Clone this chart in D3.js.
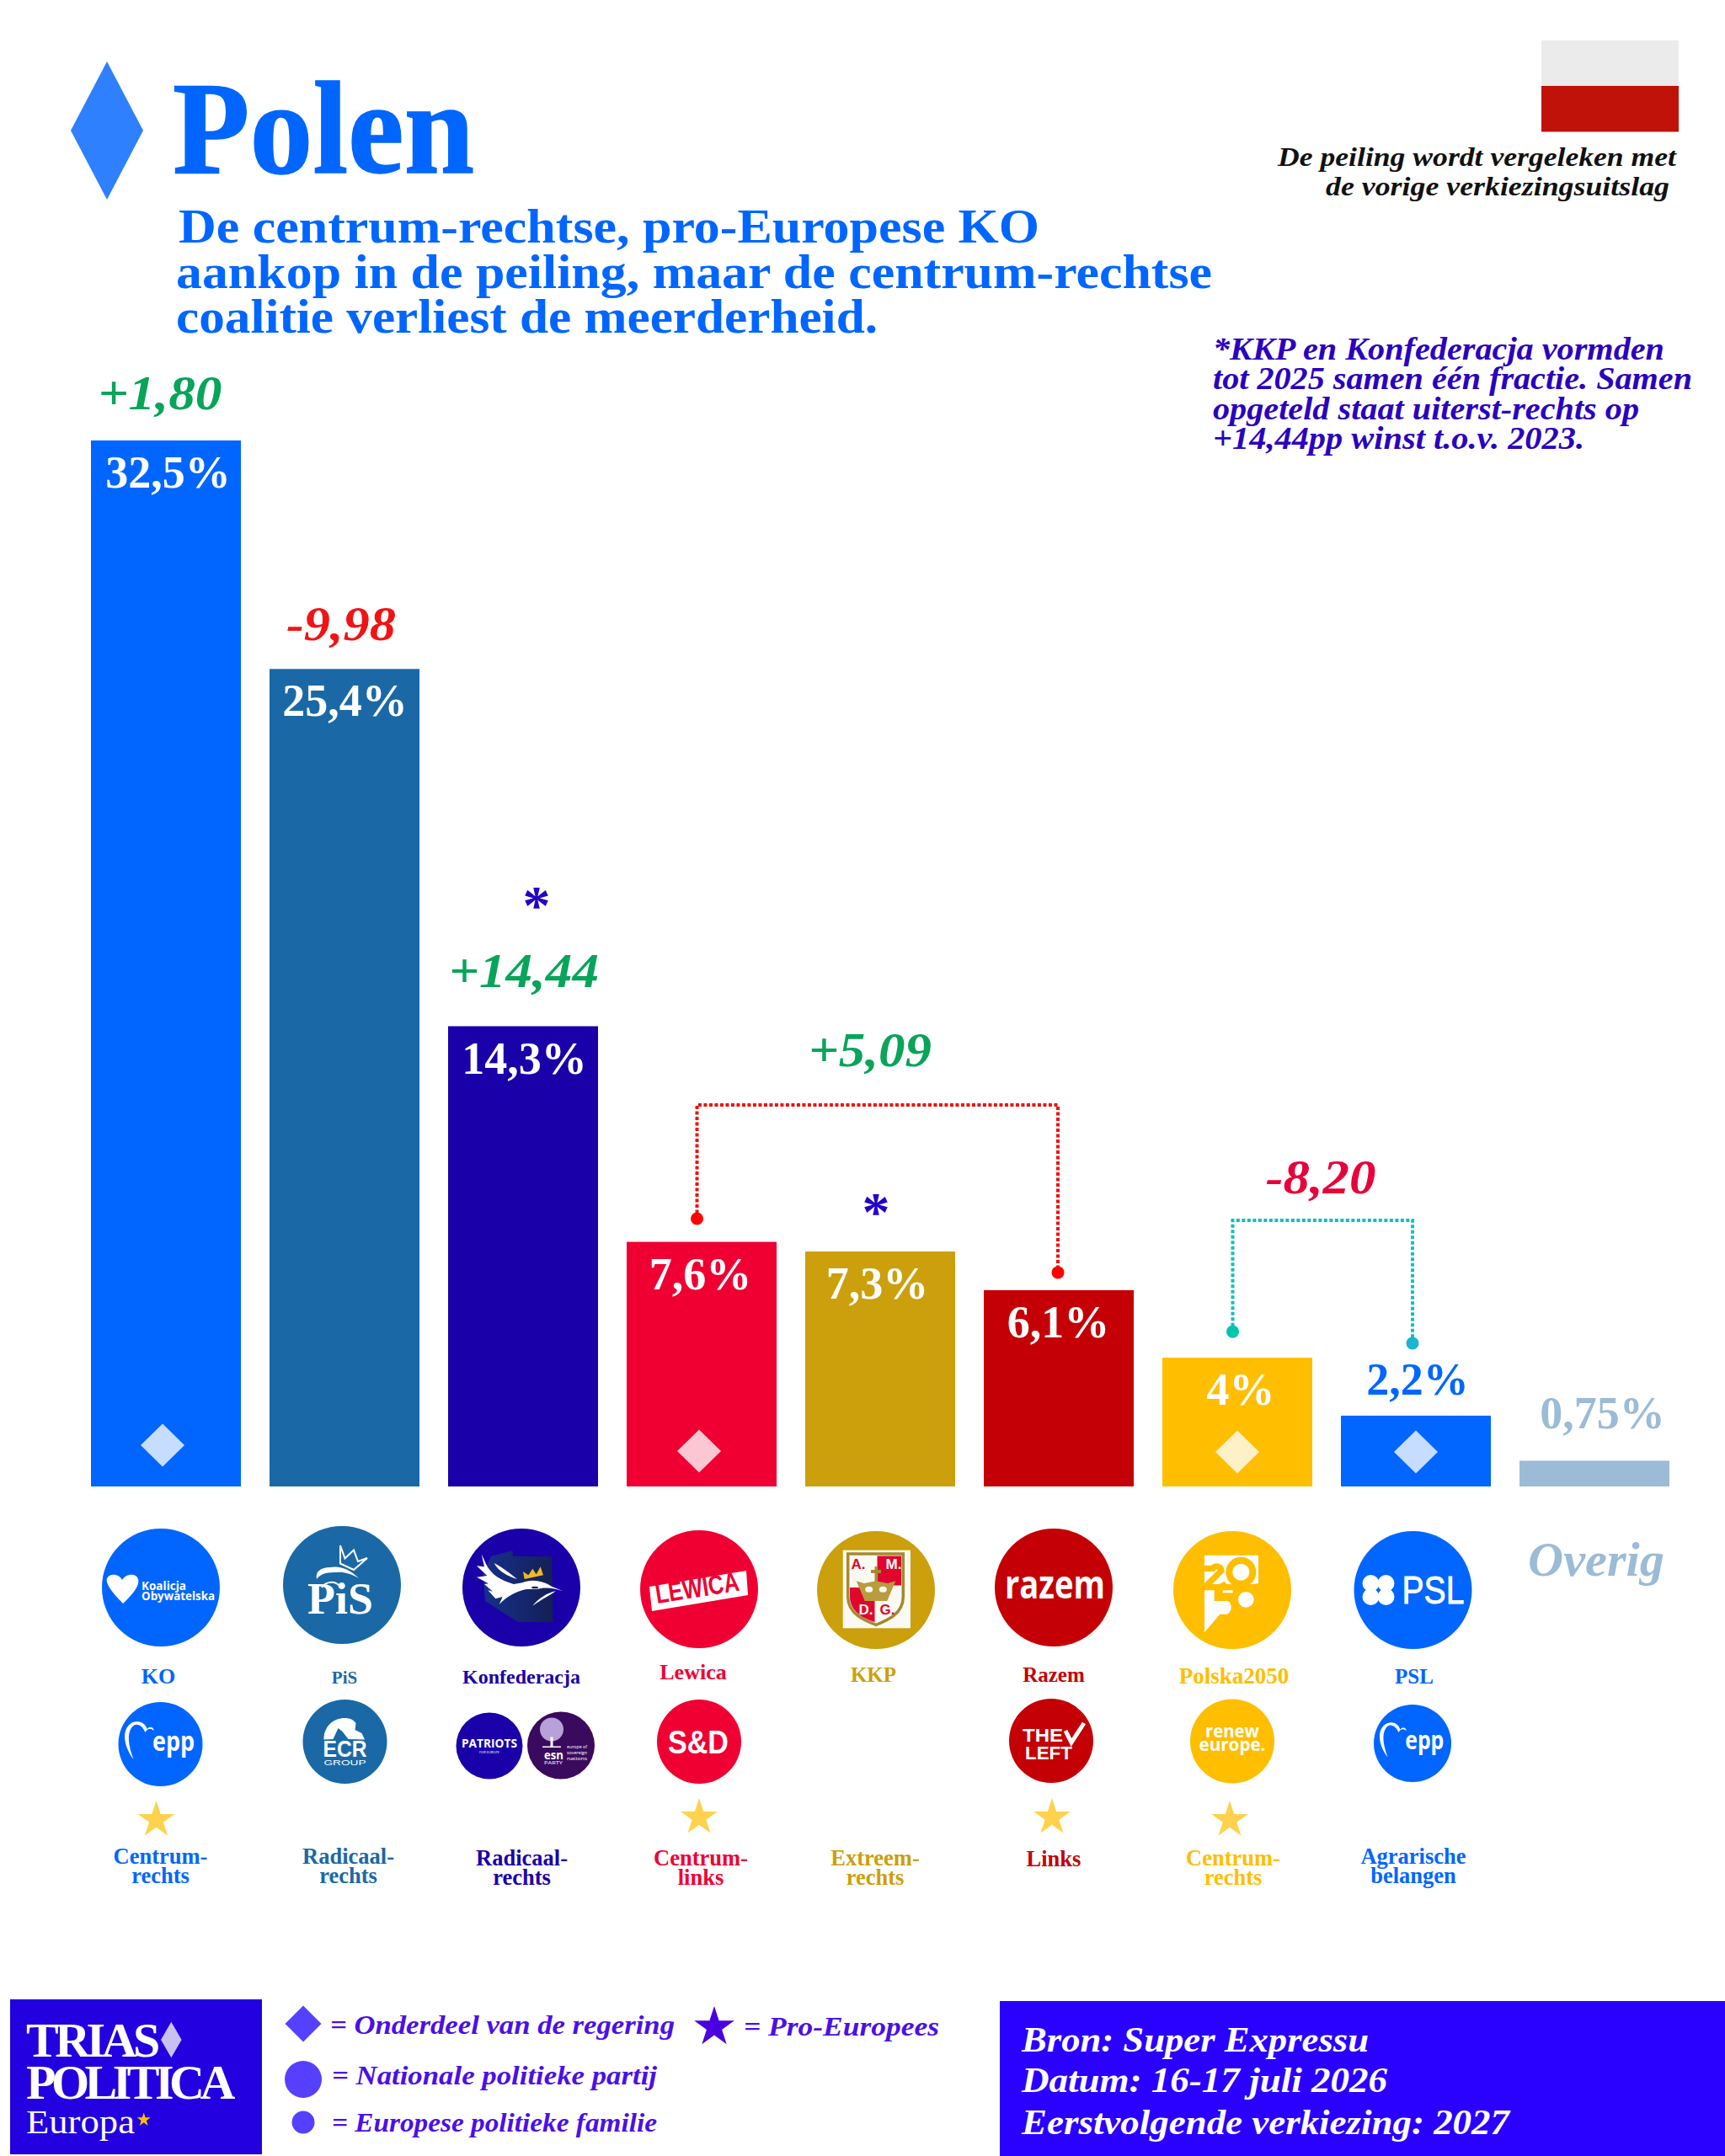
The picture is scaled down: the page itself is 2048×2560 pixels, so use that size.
<!DOCTYPE html>
<html>
<head>
<meta charset="utf-8">
<title>Polen</title>
<script src="https://cdn.jsdelivr.net/npm/d3@7"></script>
<style>
  body { margin: 0; background: #fff; }
  svg { display: block; }
  text { font-family: "Liberation Serif", serif; font-weight: bold; }
  .logo text { font-family: "Open Sans", "Liberation Sans", sans-serif; }
</style>
</head>
<body>
<div id="chart-container"></div>
<script>
// data
const parties = ['KO', 'PiS', 'Konfederacja', 'Lewica', 'KKP', 'Razem', 'Polska2050', 'PSL', 'Overig'];
const polling = [32.5, 25.4, 14.3, 7.6, 7.3, 6.1, 4, 2.2, 0.8];
const pollingLabels = ['32,5%', '25,4%', '14,3%', '7,6%', '7,3%', '6,1%', '4%', '2,2%', '0,75%'];
const inGovernment = ['KO', 'Lewica', 'Polska2050', 'PSL'];
const proEuropean = ['KO', 'Lewica', 'Razem', 'Polska2050'];
const starred = ['Konfederacja', 'KKP'];
const leanings = [
  ['Centrum-', 'rechts'], ['Radicaal-', 'rechts'], ['Radicaal-', 'rechts'], ['Centrum-', 'links'],
  ['Extreem-', 'rechts'], ['Links'], ['Centrum-', 'rechts'], ['Agrarische', 'belangen'], []
];
const changeLabels = ['+1,80', '-9,98', '+14,44', '+5,09', '-8,20'];
const partyColors = ['#0066ff', '#1a69a6', '#1a00a8', '#f00032', '#cc9f0c', '#c40006', '#ffbe00', '#0066ff', '#9bbbd6'];

const green = '#08a45a', blue = '#0066ff', violet = '#2a00c0', legendInk = '#4a10e8';

const svg = d3.select('#chart-container').append('svg')
  .attr('width', 2048).attr('height', 2560);

const xScale = d3.scaleBand().domain(parties).range([108, 1982]).paddingInner(34 / 212);
const yScale = d3.scaleLinear().domain([0, 32.5]).range([1765, 523]);
const color = d3.scaleOrdinal().domain(parties).range(partyColors);
const mid = p => xScale(p) + xScale.bandwidth() / 2;

// text helper, len squeezes or stretches the run to the measured width
function label(parent, str, x, y, size, fill, o = {}) {
  const t = parent.append('text')
    .attr('x', x).attr('y', y)
    .attr('font-size', size).attr('fill', fill)
    .attr('text-anchor', o.anchor || 'start')
    .text(str);
  if (o.italic) t.attr('font-style', 'italic');
  if (o.len) t.attr('textLength', o.len).attr('lengthAdjust', 'spacingAndGlyphs');
  if (o.weight) t.style('font-weight', o.weight);
  if (o.family) t.style('font-family', o.family);
  if (o.spacing) t.style('letter-spacing', o.spacing + 'px');
  if (o.stroke) t.attr('stroke', fill).attr('stroke-width', o.stroke);
  return t;
}

function diamond(parent, cx, cy, hw, hh, fill, opacity) {
  return parent.append('path')
    .attr('d', `M${cx},${cy - hh}L${cx + hw},${cy}L${cx},${cy + hh}L${cx - hw},${cy}Z`)
    .attr('fill', fill).attr('opacity', opacity === undefined ? 1 : opacity);
}

const star = r => d3.symbol(d3.symbolStar, r * r / 0.8908)();

// header
diamond(svg, 127, 155, 43, 82, '#2e80ff');
label(svg, 'Polen', 205, 205, 157, blue, { len: 358, stroke: 1.5 });
label(svg, 'De centrum-rechtse, pro-Europese KO', 212, 288, 58, blue, { len: 1022 });
label(svg, 'aankop in de peiling, maar de centrum-rechtse', 209, 342, 58, blue, { len: 1230 });
label(svg, 'coalitie verliest de meerderheid.', 209, 395, 58, blue, { len: 833 });

svg.append('rect').attr('x', 1830).attr('y', 48).attr('width', 163).attr('height', 54).attr('fill', '#ebebeb');
svg.append('rect').attr('x', 1830).attr('y', 102).attr('width', 163).attr('height', 54.5).attr('fill', '#c01208');
label(svg, 'De peiling wordt vergeleken met', 1517, 197, 32, '#111', { italic: true, len: 473 });
label(svg, 'de vorige verkiezingsuitslag', 1574, 232, 32, '#111', { italic: true, len: 408 });

[['*KKP en Konfederacja vormden', 427, 536], ['tot 2025 samen één fractie. Samen', 462, 569],
 ['opgeteld staat uiterst-rechts op', 498, 506], ['+14,44pp winst t.o.v. 2023.', 533, 441]]
  .forEach(([s, y, len]) => label(svg, s, 1440, y, 37, violet, { italic: true, len }));

// bars
svg.selectAll('.bar').data(parties).enter().append('rect')
  .attr('class', 'bar')
  .attr('x', d => xScale(d))
  .attr('y', d => yScale(polling[parties.indexOf(d)]))
  .attr('width', xScale.bandwidth())
  .attr('height', d => yScale(0) - yScale(polling[parties.indexOf(d)]))
  .attr('fill', d => color(d));

// value labels, the two small bars carry theirs above the bar
parties.forEach((p, i) => {
  const top = yScale(polling[i]);
  const outside = polling[i] < 3;
  const dx = [2.5, 0.5, 1.5, -1.5, -3.5, -0.5, 4, 2, 9.5][i];
  label(svg, pollingLabels[i], mid(p) + dx, outside ? top - 25 - (p === 'Overig' ? 13 : 0) : top + 56, 54,
    outside ? color(p) : '#fff', { anchor: 'middle' });
});

inGovernment.forEach(p => {
  const cy = p === 'KO' ? 1716 : p === 'Lewica' ? 1723 : 1724;
  diamond(svg, mid(p) - (p === 'KO' ? 4 : p === 'Lewica' ? 3 : 0), cy, 26, 25.5, '#fff', 0.78);
});

// change since the last election
const changeAt = [['KO', 190, 486, green, 147], ['PiS', 405, 760, '#f01414', 130], ['Konfederacja', 622, 1172, green, 178],
  ['KKP', 1033, 1266, green, 146], ['PSL', 1568, 1417, '#e8003a', 131]];
changeAt.forEach((c, i) => label(svg, changeLabels[i], c[1], c[2], 58, c[3], { italic: true, anchor: 'middle', len: c[4] }));

starred.forEach(p => {
  label(svg, '*', p === 'KKP' ? mid(p) - 5 : mid(p) + 16, yScale(polling[parties.indexOf(p)]) - (p === 'KKP' ? 25 : 122), 66, '#2200c8', { anchor: 'middle' });
});

// dotted brackets between parties that ran together
function bracket(a, b, ax, bx, topY, aGap, bGap, line, aDot, bDot) {
  const x1 = mid(a) + ax, x2 = mid(b) + bx;
  const y1 = yScale(polling[parties.indexOf(a)]) - aGap, y2 = yScale(polling[parties.indexOf(b)]) - bGap;
  svg.append('path')
    .attr('d', d3.line()([[x1, y1], [x1, topY], [x2, topY], [x2, y2]]))
    .attr('fill', 'none').attr('stroke', line).attr('stroke-width', 4).attr('stroke-dasharray', '4 2.5');
  svg.append('circle').attr('cx', x1).attr('cy', y1).attr('r', 7.5).attr('fill', aDot);
  svg.append('circle').attr('cx', x2).attr('cy', y2).attr('r', 7.5).attr('fill', bDot);
}
bracket('Lewica', 'Razem', -5.5, -1, 1312, 27.5, 21, '#f21010', '#ff0000', '#ff0000');
bracket('Polska2050', 'PSL', -5.5, -4, 1449, 31, 86, '#10bfc0', '#00c4b0', '#1ab5d0');

// party logos are simplified redraws of the originals
const logoAt = (cx, cy, r, fill) => {
  const g = svg.append('g').attr('class', 'logo').attr('transform', `translate(${cx},${cy})`);
  g.append('circle').attr('r', r).attr('fill', fill);
  return g;
};
const w = (g, s, x, y, size, len, o = {}) => label(g, s, x, y, size, o.fill || '#fff', { len, ...o });

// KO
let g = logoAt(191, 1885, 70, color('KO'));
g.append('path').attr('d', 'M-45,19C-60,4 -66,-6 -64,-11C-61,-17 -50,-17 -46,-9C-41,-17 -29,-17 -27,-10C-25,-4 -31,6 -45,19Z').attr('fill', '#fff');
w(g, 'Koalicja', -23, 3, 15, 53);
w(g, 'Obywatelska', -23, 15, 15, 87);

// PiS
g = logoAt(406, 1882, 70, color('PiS'));
w(g, 'PiS', -41, 34, 52, 78, { family: '"Liberation Serif", serif' });
g.append('path').attr('d', 'M-2,-47L3.5,-31.5L14,-41.4L19,-28L30,-32L14,-18L-2,-25.5Z').attr('fill', 'none').attr('stroke', '#fff').attr('stroke-width', 2);
g.append('path').attr('d', 'M-30,-7C-32,-16 -25,-21 -14,-21C-4,-23 8,-20 20,-8C10,-14 0,-16 -6,-15C-16,-15 -24,-15 -30,-7Z').attr('fill', '#fff');
g.append('path').attr('d', 'M-24,3C-20,-4 -8,-6 -2,2').attr('fill', 'none').attr('stroke', '#fff').attr('stroke-width', 2);

// Konfederacja, drawn in the 3x crop's coordinates
const konfGrad = svg.append('defs').append('linearGradient').attr('id', 'konfGrad');
konfGrad.append('stop').attr('offset', '0').attr('stop-color', '#16308c');
konfGrad.append('stop').attr('offset', '1').attr('stop-color', '#141f55');
g = logoAt(619, 1885, 70, color('Konfederacja'));
let art = g.append('g').attr('transform', 'translate(-79,-84) scale(0.3333)');
art.append('path').attr('d', 'M130,140L205,120L207,140L345,142L350,375L225,375L108,300L100,200Z').attr('fill', 'url(#konfGrad)');
art.append('path').attr('d', 'M95,133L112,170C130,205 160,225 210,240L240,235C270,222 310,225 345,248L385,265C350,252 320,250 290,258C270,258 250,256 240,262C210,270 180,290 158,312L170,285L145,292L118,262L135,266L105,240L120,238L78,215L115,210L78,175L105,178Z').attr('fill', '#fff');
art.append('path').attr('d', 'M277,317C300,290 330,270 360,265C330,285 300,300 277,317Z').attr('fill', '#fff');
art.append('path').attr('d', 'M140,165C170,180 200,205 222,222C190,212 155,195 140,165Z').attr('fill', '#fff');
art.append('ellipse').attr('cx', 285).attr('cy', 252).attr('rx', 12).attr('ry', 4).attr('fill', '#141f55');
art.append('path').attr('d', 'M243,195L262,208L277,185L290,205L305,178L315,208L248,222Z').attr('fill', '#f5b81c');

// Lewica
g = logoAt(830, 1887, 70, color('Lewica'));
g.append('path').attr('d', 'M-59,-3L56,-22L58,7L-56,26Z').attr('fill', '#fff');
w(g, 'LEWICA', -50, 17, 32, 100, { fill: color('Lewica'), family: '"Liberation Sans", sans-serif' }).attr('transform', 'rotate(-9 -50 17)');

// KKP
g = logoAt(1040, 1888, 70, color('KKP'));
g.append('rect').attr('x', -39.3).attr('y', -47.3).attr('width', 80.3).attr('height', 92.6).attr('fill', '#fbfaf2');
g.append('path').attr('d', 'M-33.3,-43L32.3,-43L32.3,8C32.3,28 14,36 0,41.3C-14,36 -33.3,28 -33.3,8Z').attr('fill', '#fbfaf2').attr('stroke', '#a58a30').attr('stroke-width', 3.5);
g.append('rect').attr('x', 1.5).attr('y', -40.5).attr('width', 28.5).attr('height', 35).attr('fill', '#e0062e');
g.append('path').attr('d', 'M-31,-3L-1.5,-3L-1.5,38C-14,34 -31,26 -31,8Z').attr('fill', '#e0062e');
g.append('path').attr('d', 'M-1.5,-28L1.5,-28L1.5,-24L6,-24L6,-20L1.5,-20L1.5,-10L-1.5,-10L-1.5,-20L-6,-20L-6,-24L-1.5,-24Z').attr('fill', '#a58a30');
g.append('path').attr('d', 'M-23.3,-10.7L-14,-8L0,-10.7L14,-8L23.3,-10.7L15,8.7L13.3,13L-13.3,13L-15,8.7Z').attr('fill', '#b89c3e');
g.append('ellipse').attr('cx', -8.3).attr('cy', -0.7).attr('rx', 4.5).attr('ry', 3.5).attr('fill', '#fbfaf2');
g.append('ellipse').attr('cx', 8.3).attr('cy', -0.7).attr('rx', 4.5).attr('ry', 3.5).attr('fill', '#fbfaf2');
[['A.', -21, -24.7, '#e0062e'], ['M.', 21, -24.7, '#fbfaf2'], ['D.', -12, 28.7, '#fbfaf2'], ['G.', 13.5, 28.7, '#e0062e']].forEach(([s, x, y, fill]) =>
  label(g, s, x, y, 17, fill, { anchor: 'middle', family: '"Liberation Sans", sans-serif' }));

// Razem
g = logoAt(1251, 1885, 70, color('Razem'));
w(g, 'razem', -58, 13, 46, 119);

// Polska2050, drawn in the 3x crop's coordinates
g = logoAt(1463, 1888, 70, color('Polska2050'));
art = g.append('g').attr('transform', 'translate(-78,-83) scale(0.3333)');
art.append('path').attr('d', 'M135,125L327,125L327,225L310,228L135,228Z').attr('fill', '#fff');
art.append('circle').attr('cx', 265).attr('cy', 185).attr('r', 42).attr('fill', 'none').attr('stroke', color('Polska2050')).attr('stroke-width', 24);
art.append('path').attr('d', 'M135,172L165,172C175,160 195,165 195,180L135,240').attr('fill', 'none').attr('stroke', color('Polska2050')).attr('stroke-width', 22);
art.append('path').attr('d', 'M170,238L205,218L225,238Z').attr('fill', color('Polska2050'));
art.append('path').attr('d', 'M135,250L170,250L170,288L215,288C235,290 235,330 215,335L190,335L135,400Z').attr('fill', '#fff');
art.append('rect').attr('x', 200).attr('y', 250).attr('width', 36).attr('height', 9).attr('fill', '#fff');
art.append('circle').attr('cx', 283).attr('cy', 283).attr('r', 28).attr('fill', '#fff');

// PSL
g = logoAt(1677.5, 1888, 70, color('PSL'));
[[-50, -8], [-32, -8], [-50, 8], [-32, 8]].forEach(([cx, cy]) => g.append('circle').attr('cx', cx).attr('cy', cy).attr('r', 10).attr('fill', '#fff'));
w(g, 'PSL', -13, 16, 46, 74, { family: '"Liberation Sans", sans-serif', weight: 'normal', stroke: 0.8 });

label(svg, 'Overig', 1814, 1871, 58, '#9bbbd6', { italic: true, len: 162 });

// names under the logos
[['KO', 188, 1998.5, 26], ['PiS', 409, 1998.5, 21], ['Konfederacja', 619, 1998.5, 24], ['Lewica', 823, 1993.5, 26],
 ['KKP', 1037, 1996.5, 25], ['Razem', 1251, 1996.5, 25], ['Polska2050', 1465, 1998.5, 27], ['PSL', 1679, 1998.5, 25]]
  .forEach(([p, x, y, size]) => label(svg, p, x, y, size, color(p), { anchor: 'middle' }));

// european families
function epp(cx, cy, r) {
  const e = logoAt(cx, cy, r, blue);
  const s = r / 50;
  e.append('path').attr('transform', `scale(${s})`)
    .attr('d', 'M-32,18C-44,2 -46,-16 -36,-24C-28,-30 -18,-26 -16,-18C-12,-22 -8,-20 -8,-16C-12,-20 -16,-18 -18,-14C-22,-24 -30,-26 -34,-20C-40,-12 -38,2 -32,18Z').attr('fill', '#fff');
  w(e, 'epp', -9.5 * s, 8 * s, 32 * s, 50 * s);
}
epp(190.5, 2071, 50);
epp(1677, 2070, 46);

g = logoAt(409.5, 2068, 50, color('PiS'));
g.append('path').attr('d', 'M-25,-2.6C-25,-18 -14,-28 0,-28C6,-28 10,-26 13,-22L12,-14L20,-10L23.5,-2.6L4,-3L-3,-12L-8,-16L-14,-3Z').attr('fill', '#fff');
w(g, 'ECR', -26, 18, 27, 52, { family: '"Liberation Sans", sans-serif' });
w(g, 'GROUP', -25, 28, 9, 50, { family: '"Liberation Sans", sans-serif', weight: 'normal' });

g = logoAt(581, 2073, 39.5, color('Konfederacja'));
w(g, 'PATRIOTS', -33, 2, 15, 66);
w(g, 'FOR EUROPE', -12, 9, 4, 24, { weight: 'normal' });

g = logoAt(666, 2072.5, 40, '#3a0a5e');
g.append('circle').attr('cx', -11).attr('cy', -19).attr('r', 14).attr('fill', '#b8a0d8');
g.append('rect').attr('x', -12.5).attr('y', -10).attr('width', 3).attr('height', 12).attr('fill', '#fff');
g.append('rect').attr('x', -22).attr('y', 1).attr('width', 22).attr('height', 1.5).attr('fill', '#fff');
w(g, 'esn', -20, 16, 15, 23);
w(g, 'PARTY', -20, 22, 4.5, 22, { weight: 'normal' });
[['europe of', 3], ['sovereign', 10], ['nations', 17]].forEach(([s, y]) => w(g, s, 7, y, 5.5, 24, { weight: 'normal' }));

g = logoAt(830, 2068, 50, color('Lewica'));
w(g, 'S&D', -37, 14, 38, 72, { family: '"Liberation Sans", sans-serif' });

g = logoAt(1248, 2067, 50, color('Razem'));
w(g, 'THE', -34, 1, 22, 48, { family: '"Liberation Sans", sans-serif' });
w(g, 'LEFT', -31, 22, 22, 56, { family: '"Liberation Sans", sans-serif' });
g.append('path').attr('d', 'M17,-12L24,2L39,-21').attr('fill', 'none').attr('stroke', '#fff').attr('stroke-width', 5);

g = logoAt(1463, 2067.5, 50, color('Polska2050'));
w(g, 'renew', -32, -5, 21, 64);
w(g, 'europe.', -39.5, 11, 21, 79);

// stars for the pro-european parties
const starAt = { KO: [185.5, 2161], Lewica: [830, 2158], Razem: [1249, 2158], Polska2050: [1460, 2161] };
proEuropean.forEach(p => {
  svg.append('path').attr('d', star(23)).attr('transform', `translate(${starAt[p][0]},${starAt[p][1]})`).attr('fill', '#ffd24d');
});

// political leaning
const leaningAt = [[190.5, 2212.5], [413.5, 2212.5], [619.5, 2214.5], [832, 2214.5], [1039, 2214.5], [1251, 2215.5], [1464, 2214.5], [1678, 2212.5]];
leaningAt.forEach(([x, y], i) => {
  leanings[i].forEach((s, j) => label(svg, s, x, y + j * 23, 26.5, color(parties[i]), { anchor: 'middle' }));
});

// footer
svg.append('rect').attr('x', 12).attr('y', 2374).attr('width', 299).attr('height', 184).attr('fill', '#2200e0');
label(svg, 'TRIAS', 31, 2442, 58, '#fff', { spacing: -4.5 });
diamond(svg, 203.3, 2422, 12.3, 21.3, '#c8c0f0');
label(svg, 'POLITICA', 31, 2492, 58, '#fff', { spacing: -5.5 });
label(svg, 'Europa', 31, 2533, 39, '#fff', { weight: 'normal', len: 129 });
svg.append('path').attr('d', star(8.5)).attr('transform', 'translate(170.7,2517)').attr('fill', '#ffc000');

diamond(svg, 360, 2403, 21.5, 21.5, '#5540ff');
label(svg, '= Onderdeel van de regering', 392, 2415, 31, legendInk, { italic: true, len: 409 });
svg.append('path').attr('d', star(25)).attr('transform', 'translate(848,2407)').attr('fill', '#4a00e0');
label(svg, '= Pro-Europees', 883, 2417, 31, legendInk, { italic: true, len: 232 });
svg.append('circle').attr('cx', 360).attr('cy', 2469).attr('r', 22).attr('fill', '#5540ff');
label(svg, '= Nationale politieke partij', 394, 2475, 31, legendInk, { italic: true, len: 386 });
svg.append('circle').attr('cx', 360).attr('cy', 2520).attr('r', 13.5).attr('fill', '#5540ff');
label(svg, '= Europese politieke familie', 394, 2531, 31, legendInk, { italic: true, len: 386 });

svg.append('rect').attr('x', 1187).attr('y', 2376).attr('width', 861).attr('height', 184).attr('fill', '#2a00ff');
label(svg, 'Bron: Super Expressu', 1213, 2436, 42, '#fff', { italic: true, len: 412 });
label(svg, 'Datum: 16-17 juli 2026', 1213, 2484, 42, '#fff', { italic: true, len: 434 });
label(svg, 'Eerstvolgende verkiezing: 2027', 1213, 2534, 42, '#fff', { italic: true, len: 579 });
</script>
</body>
</html>
